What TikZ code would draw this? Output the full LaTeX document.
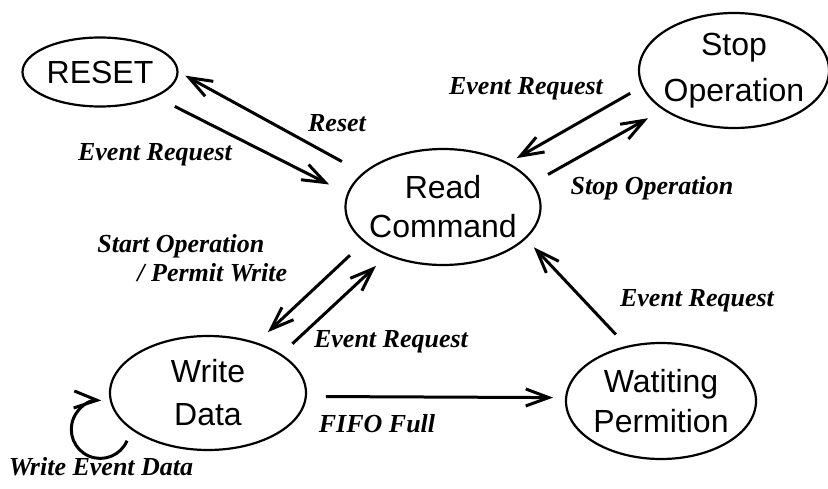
\documentclass[tikz,border=0pt]{standalone}
\usepackage{fontspec}
\setmainfont{Liberation Serif}
\newfontfamily\statefont{Liberation Sans}
\usetikzlibrary{shapes.geometric,arrows.meta}

\tikzset{
  state/.style={ellipse, draw, line width=1.1pt, minimum width=95pt, minimum height=57.5pt,
    inner sep=-12pt, align=center, font=\statefont\fontsize{16}{20}\selectfont},
  trans/.style={-{Straight Barb[length=11.5pt,width=8.5pt]}, line width=1.5pt},
  tag/.style={inner sep=0pt, align=left, font=\bfseries\itshape\fontsize{13}{14.5}\selectfont}
}

\begin{document}
\begin{tikzpicture}[x=0.5pt, y=0.5pt]
	\useasboundingbox (0,0) rectangle (828,488);

	% states
	\node[state, minimum width=77.5pt, minimum height=34.5pt] (reset) at (100,416) {RESET};
	\node[state, minimum width=97.5pt, minimum height=58pt] (read) at (443,281) {Read\\[-0.5pt]Command};
	\node[state] (stop) at (734,417.5) {Stop\\[3pt]Operation};
	\node[state, minimum width=98pt, minimum height=57pt] (write) at (208,95) {Write\\[1.5pt]Data};
	\node[state, minimum height=58pt] (wait) at (661,87) {Watiting\\Permition};

	% transitions
	\draw[trans, shorten <=11.8pt, shorten >=3.8pt] (read.157.6) -- (reset.-0.7);
	\draw[trans, shorten <=10.5pt, shorten >=10pt] (reset.-24) -- (read.172.6);
	\draw[trans, shorten <=6.6pt, shorten >=4.7pt] (stop.190.8) -- (read.34.2);
	\draw[trans, shorten <=8.6pt, shorten >=8.5pt] (read.15.4) -- (stop.209.8);
	\draw[trans, shorten <=9.5pt, shorten >=7.5pt] (read.204.4) -- (write.46.9);
	\draw[trans, shorten <=7.5pt, shorten >=7.5pt] (write.28.4) -- (read.221.3);
	\draw[trans, shorten <=9.5pt, shorten >=6pt] (write.-2.4) -- (wait.178.4);
	\draw[trans, shorten <=7.8pt, shorten >=5.7pt] (wait.122.7) -- (read.-21.4);
	% self loop on write
	\draw[trans] ([xshift=-7.3pt, yshift=-2.3pt]write.213) arc[start angle=-23, end angle=-272, radius=14.5pt];

	% labels
	\node[tag] (treset) at (337,365) {Reset};
	\node[tag] (tevreset) at (155,333) {Event Request};
	\node[tag] (tevstop) at (526,399) {Event Request};
	\node[tag] (tstop) at (652,300) {Stop Operation};
	\node[tag, anchor=west] (tstart) at (97,229.5) {Start Operation\\\hspace*{20pt}/ Permit Write};
	\node[tag] (tevwrite) at (391,146) {Event Request};
	\node[tag] (tfifo) at (377,64) {FIFO Full};
	\node[tag] (tloop) at (101,21) {Write Event Data};
	\node[tag] (tevwait) at (697,187) {Event Request};
\end{tikzpicture}
\end{document}
